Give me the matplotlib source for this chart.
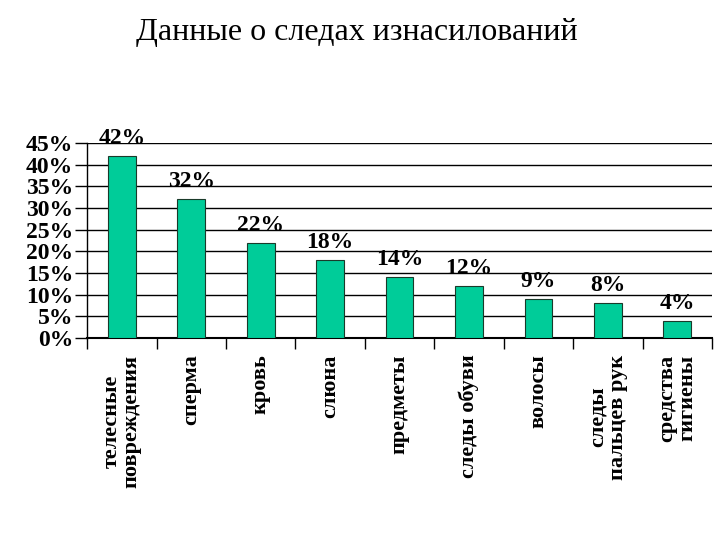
import numpy as np
import matplotlib
matplotlib.use("Agg")
import matplotlib.pyplot as plt

# Data
categories = ["телесные\nповреждения", "сперма", "кровь", "слюна", "предметы",
              "следы обуви", "волосы", "следы\nпальцев рук", "средства\nгигиены"]
values = [42, 32, 22, 18, 14, 12, 9, 8, 4]
y_ticks = [0, 5, 10, 15, 20, 25, 30, 35, 40, 45]

SERIF = ["Liberation Serif", "DejaVu Serif"]
BAR_COLOR = "#00CC99"

fig = plt.figure(figsize=(7.2, 5.4), dpi=100)
ax = fig.add_axes([0.121, 0.374, 0.868, 0.361])

x = np.arange(len(categories))
ax.bar(x, values, width=0.4, color=BAR_COLOR, edgecolor="#1a3a2a", linewidth=0.8, zorder=3)

ax.set_ylim(0, 45)
ax.set_xlim(-0.5, len(categories) - 0.5)
ax.set_yticks(y_ticks)
ax.set_yticklabels([f"{t}%" for t in y_ticks], fontfamily=SERIF, fontweight="bold", fontsize=17)
ax.yaxis.grid(True, color="black", linewidth=1.0, zorder=0)
ax.tick_params(axis="y", length=9, width=1.0, pad=1)

# x ticks at category boundaries, labels at centres
ax.set_xticks(np.arange(len(categories) + 1) - 0.5)
ax.set_xticklabels([])
ax.tick_params(axis="x", length=8, width=1.0, direction="out")
for i, cat in enumerate(categories):
    ax.text(i, -3.8, cat, rotation=90, ha="center", va="top", ma="center",
            fontfamily=SERIF, fontweight="bold", fontsize=16, linespacing=1.0)

for sp in ["top", "right"]:
    ax.spines[sp].set_visible(False)
ax.spines["left"].set_linewidth(1.0)
ax.spines["bottom"].set_linewidth(1.5)

for i, v in enumerate(values):
    ax.text(i, v + 1.6, f"{v}%", ha="center", va="bottom",
            fontfamily=SERIF, fontweight="bold", fontsize=17, clip_on=False)

fig.text(0.496, 0.94, "Данные о следах изнасилований", ha="center", va="center",
         fontfamily=SERIF, fontsize=23)

fig.savefig("out.png", dpi=100)
